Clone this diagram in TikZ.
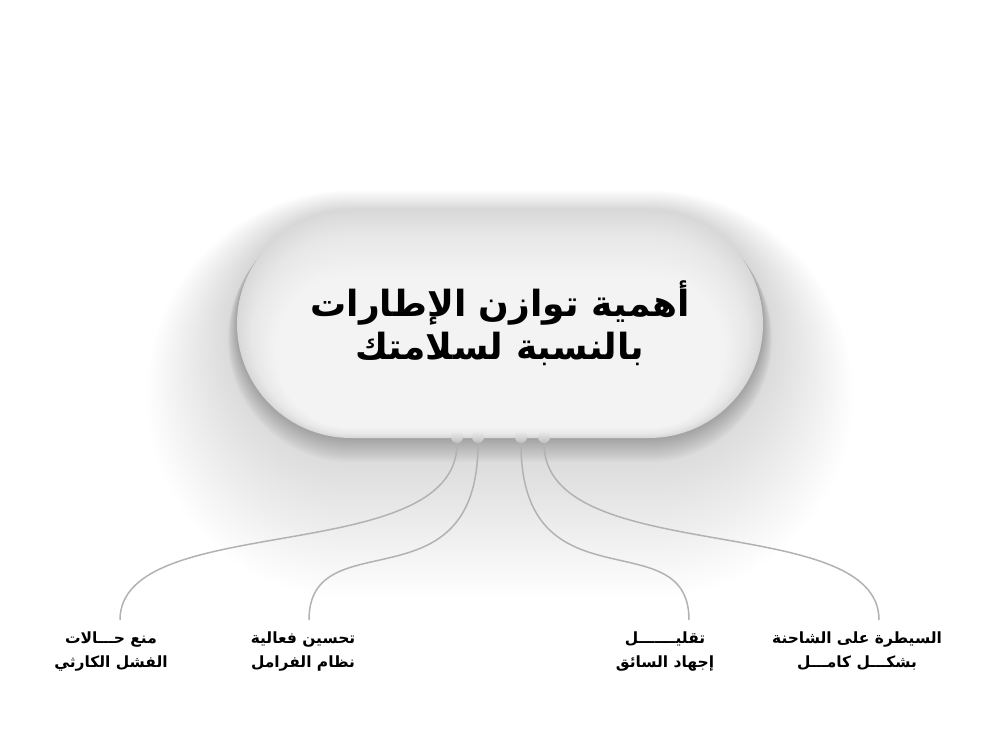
\documentclass[tikz,border=0pt]{standalone}
\usepackage{fontspec}
\newfontfamily\arabicfont[Script=Arabic]{DejaVu Sans}
\TeXXeTstate=1
\usetikzlibrary{calc}

\tikzset{
  conn/.style={draw=gray!60, line width=0.85pt},
  knob/.style={circle, minimum size=0.24cm, inner sep=0pt, top color=gray!15, bottom color=gray!50},
  lbl/.style={font=\arabicfont\bfseries\fontsize{8.8}{13.6}\selectfont, align=center, anchor=north, inner sep=0pt},
  ttl/.style={font=\arabicfont\bfseries\fontsize{20.5}{24.4}\selectfont, align=center, inner sep=0pt},
}

\begin{document}
\begin{tikzpicture}
  \useasboundingbox (0,0) rectangle (20,15);
  \fill[white] (0,0) rectangle (20,15);
  % soft shadow round the pill
  \foreach \i in {1,...,40}{
    \pgfmathsetmacro\w{5.26+0.045*\i}
    \pgfmathsetmacro\h{2.28+0.045*\i}
    \pgfmathsetmacro\cy{8.52-0.035*\i}
    \fill[black, opacity=0.004, rounded corners=\h cm] (10-\w,\cy-\h) rectangle (10+\w,\cy+\h);
  }
  \foreach \i in {1,...,12}{
    \pgfmathsetmacro\w{5.26+0.015*\i}
    \pgfmathsetmacro\h{2.28+0.015*\i}
    \pgfmathsetmacro\cy{8.52-0.025*\i}
    \fill[black, opacity=0.02, rounded corners=\h cm] (10-\w,\cy-\h) rectangle (10+\w,\cy+\h);
  }
  % the pill
  \fill[gray!30, rounded corners=2.28cm] (4.74,6.24) rectangle (15.26,10.8);
  \foreach \i in {1,...,36}{
    \pgfmathsetmacro\d{0.04*\i}
    \pgfmathsetmacro\r{2.28-1.0*\d}
    \fill[white, opacity=0.08, rounded corners=\r cm] (4.74+\d,6.24+0.25*\d) rectangle (15.26-\d,10.8-1.7*\d);
  }
  \node[ttl] (title) at (10,8.54) {\beginR أهمية توازن الإطارات\endR\\\beginR بالنسبة لسلامتك\endR};

  % knobs under the pill
  \node[knob] (k1) at (9.14,6.26) {};
  \node[knob] (k2) at (9.56,6.26) {};
  \node[knob] (k3) at (10.42,6.26) {};
  \node[knob] (k4) at (10.88,6.26) {};

  % labels
  \node[lbl] (l1) at (2.22,2.37) {\beginR منع حـــالات\endR\\\beginR الفشل الكارثي\endR};
  \node[lbl] (l2) at (6.06,2.37) {\beginR تحسين فعالية\endR\\\beginR نظام الفرامل\endR};
  \node[lbl] (l3) at (13.3,2.37) {\beginR تقليـــــــل\endR\\\beginR إجهاد السائق\endR};
  \node[lbl] (l4) at (17.14,2.37) {\beginR السيطرة  على الشاحنة\endR\\\beginR بشكـــل كامـــل\endR};

  \coordinate (e1) at (2.4,2.6);
  \coordinate (e2) at (6.18,2.6);
  \coordinate (e3) at (13.78,2.6);
  \coordinate (e4) at (17.58,2.6);

  % connectors
  \draw[conn] (k1) to[out=-90, in=90, out distance=2.5cm, in distance=2.2cm] (e1);
  \draw[conn] (k2) to[out=-90, in=90, out distance=3.36cm, in distance=2.02cm] (e2);
  \draw[conn] (k3) to[out=-90, in=90, out distance=3.36cm, in distance=2.02cm] (e3);
  \draw[conn] (k4) to[out=-90, in=90, out distance=2.5cm, in distance=2.2cm] (e4);
\end{tikzpicture}
\end{document}
